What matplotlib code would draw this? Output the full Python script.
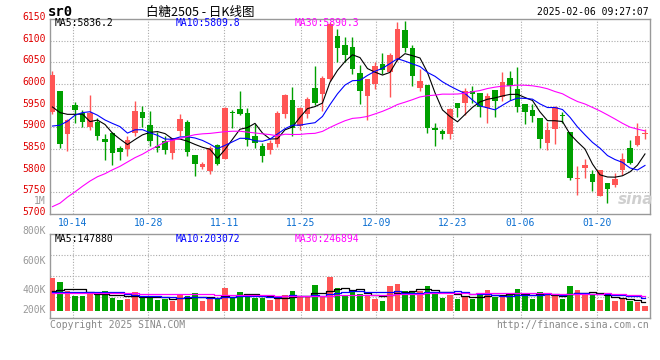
import numpy as np
import pandas as pd
import matplotlib
matplotlib.use('Agg')
import matplotlib.pyplot as plt
import matplotlib.transforms as mtransforms

# sugar SR2505 daily candles, oldest first (2024-10-09 .. 2025-02-06)
opens = [5936, 5983, 5884, 5951, 5932, 5901, 5913, 5873, 5886, 5853,
         5851, 5888, 5936, 5905, 5857, 5869, 5840, 5892, 5912, 5837,
         5808, 5800, 5860, 5828, 5936, 5942, 5933, 5880, 5857, 5848,
         5861, 5931, 5963, 5902, 5931, 5991, 5976, 6012, 6111, 6089,
         6085, 6026, 5972, 5999, 6047, 6028, 6058, 6125, 6082, 5991,
         5997, 5898, 5892, 5884, 5955, 5957, 5983, 5979, 5944, 5986,
         5970, 6014, 5988, 5953, 5941, 5921, 5863, 5896, 5929, 5890,
         5781, 5806, 5792, 5741, 5772, 5766, 5801, 5852, 5860, 5885]
highs = [6029, 5985, 5920, 5959, 5941, 5974, 5921, 5885, 5890, 5858,
         5881, 5960, 5950, 5937, 5890, 5880, 5875, 5931, 5918, 5837,
         5821, 5856, 5862, 5947, 5941, 5983, 5944, 5908, 5863, 5871,
         5938, 5976, 5993, 5947, 5970, 6041, 6018, 6142, 6127, 6109,
         6108, 6043, 6011, 6050, 6072, 6071, 6142, 6146, 6089, 6035,
         5997, 5909, 5896, 5944, 5955, 5991, 5995, 5979, 5980, 5986,
         6028, 6031, 6039, 5955, 5955, 5921, 5913, 5950, 5936, 5890,
         5810, 5828, 5802, 5802, 5772, 5795, 5841, 5871, 5911, 5896]
lows = [5930, 5852, 5846, 5911, 5901, 5894, 5871, 5825, 5812, 5824,
        5833, 5881, 5901, 5858, 5843, 5839, 5827, 5879, 5835, 5787,
        5804, 5792, 5812, 5827, 5899, 5928, 5856, 5852, 5819, 5839,
        5854, 5921, 5879, 5894, 5921, 5951, 5937, 6008, 6050, 6050,
        6024, 5953, 5918, 5989, 6024, 5970, 6054, 6075, 5995, 5984,
        5886, 5856, 5872, 5873, 5924, 5928, 5957, 5924, 5909, 5923,
        5961, 5963, 5936, 5907, 5913, 5853, 5848, 5861, 5909, 5778,
        5744, 5783, 5753, 5741, 5726, 5762, 5791, 5816, 5856, 5873]
closes = [6021, 5861, 5918, 5940, 5913, 5934, 5879, 5867, 5840, 5844,
          5871, 5937, 5921, 5869, 5853, 5848, 5875, 5920, 5844, 5816,
          5815, 5852, 5816, 5945, 5934, 5931, 5871, 5865, 5833, 5865,
          5934, 5974, 5898, 5945, 5965, 5957, 6015, 6138, 6082, 6067,
          6035, 5983, 6011, 6041, 6033, 6066, 6128, 6082, 6018, 6006,
          5899, 5894, 5884, 5942, 5945, 5983, 5977, 5946, 5973, 5961,
          6005, 5995, 5947, 5936, 5927, 5873, 5894, 5946, 5927, 5782,
          5783, 5812, 5773, 5802, 5757, 5781, 5828, 5818, 5880, 5886]
# volume, thousands of lots
volumes = [490, 430, 290, 225, 225, 250, 250, 295, 190, 165,
           180, 280, 200, 220, 165, 170, 150, 230, 220, 265,
           150, 175, 170, 340, 185, 280, 250, 190, 190, 165,
           180, 230, 295, 205, 205, 385, 205, 505, 340, 235,
           290, 250, 215, 175, 145, 370, 400, 295, 295, 290,
           370, 280, 190, 240, 175, 210, 175, 250, 310, 205,
           200, 260, 325, 240, 175, 280, 240, 215, 175, 370,
           310, 265, 250, 165, 215, 145, 185, 145, 135, 70]

# moving averages at the left edge depend on days before the window,
# so those are read straight off the chart
ma5_head = [5947, 5934, 5930, 5930]
ma10_head = [5903, 5905, 5914, 5928, 5934, 5936, 5928, 5917, 5909]
ma30_head = [5717, 5725, 5739, 5751, 5764, 5776, 5786, 5793, 5802, 5810,
             5820, 5830, 5838, 5848, 5857, 5866, 5870, 5874, 5879, 5883,
             5885, 5886, 5888, 5890, 5891, 5891, 5889, 5887, 5885]
vma5_head = [300, 310, 320, 325]
vma10_head = [280, 282, 284, 285, 285, 285, 284, 283, 282]
vma30_head = [265, 265, 262, 262, 262, 260, 260, 260, 258, 258,
              258, 258, 256, 256, 255, 255, 252, 250, 248, 246,
              245, 243, 242, 240, 240, 238, 236, 235, 234]

date_labels = ['10-14', '10-28', '11-11', '11-25', '12-09', '12-23', '01-06', '01-20']
date_pos = [2.67, 12.76, 22.93, 33.09, 43.2, 53.37, 62.41, 72.57]
price_labels = [6150, 6100, 6050, 6000, 5950, 5900, 5850, 5800, 5750, 5700]

RED = '#ff5555'
GREEN = '#00a000'
GRID = '#aaaaaa'
FRAME = '#999999'
MONO = 'DejaVu Sans Mono'


def moving_average(values, n, head):
    ma = pd.Series(values, dtype=float).rolling(n).mean()
    ma.iloc[:len(head)] = head
    return ma.values


o = np.array(opens, dtype=float)
h = np.array(highs, dtype=float)
l = np.array(lows, dtype=float)
c = np.array(closes, dtype=float)
v = np.array(volumes, dtype=float)
x = np.arange(len(c))
colors = np.where(c >= o, RED, GREEN)

W, H = 660, 360
fig = plt.figure(figsize=(6.6, 3.6), dpi=100)
fig.patch.set_facecolor('white')
ax = fig.add_axes([50 / W, 1 - 214 / H, 600 / W, 195 / H])
axv = fig.add_axes([50 / W, 1 - 318 / H, 600 / W, 83.7 / H])

for a in (ax, axv):
    for s in a.spines.values():
        s.set_color(FRAME)
        s.set_linewidth(1.0)
    a.set_xlim(-0.33, 79.67)
    a.set_yticks([])
    for p in date_pos:
        a.axvline(p, color=GRID, lw=0.8, ls=(0, (1, 1.5)), zorder=1)

# price panel
ax.set_ylim(5700, 6150)
for g in price_labels[1:-1]:
    ax.axhline(g, color=GRID, lw=0.8, ls=(0, (1, 1.5)), zorder=1)
ax.vlines(x, l, h, colors=colors, lw=1.0, zorder=3)
ax.bar(x, np.maximum(np.abs(c - o), 2), bottom=np.minimum(o, c), width=0.77,
       color=colors, lw=0, zorder=4)
ax.plot(x, moving_average(c, 5, ma5_head), color='black', lw=0.8, zorder=5)
ax.plot(x, moving_average(c, 10, ma10_head), color='#0000ff', lw=0.8, zorder=5)
ax.plot(x, moving_average(c, 30, ma30_head), color='#ff00ff', lw=0.8, zorder=5)
ax.set_xticks(date_pos)
ax.set_xticklabels(date_labels, color='#0a6ed1', fontsize=7, family=MONO)
ax.tick_params(axis='x', length=0, pad=3)

lift = mtransforms.ScaledTranslation(0, 2 / 100, fig.dpi_scale_trans)
ylab = mtransforms.blended_transform_factory(ax.transAxes, ax.transData) + lift
for p in price_labels:
    ax.text(-0.0067, p, str(p), transform=ylab, ha='right', va='center',
            color='#e00000', fontsize=7, family=MONO, clip_on=False)

# volume panel
vlo, vhi = -110, 1146
axv.set_ylim(vlo, vhi)
for f in (0.25, 0.5, 0.75):
    axv.axhline(vlo + f * (vhi - vlo), color=GRID, lw=0.8, ls=(0, (1, 1.5)), zorder=1)
axv.bar(x, v, width=0.77, color=colors, lw=0, zorder=3)
axv.plot(x, moving_average(v, 5, vma5_head), color='black', lw=0.9,
         drawstyle='steps-mid', zorder=4)
axv.plot(x, moving_average(v, 10, vma10_head), color='#0000ff', lw=0.9,
         drawstyle='steps-mid', zorder=4)
axv.plot(x, moving_average(v, 30, vma30_head), color='#ff00ff', lw=0.9,
         drawstyle='steps-mid', zorder=4)
axv.set_xticks([])
for lab, yf in [('800K', 1.043), ('600K', 0.681), ('400K', 0.335), ('200K', 0.096)]:
    axv.text(-0.0067, yf, lab, transform=axv.transAxes, ha='right', va='center',
             color=FRAME, fontsize=7, family=MONO, clip_on=False)


def ftext(px, py, s, **kw):
    kw.setdefault('fontsize', 7)
    kw.setdefault('family', MONO)
    fig.text(px / W, 1 - py / H, s, va='center', **kw)


# header
ftext(48, 12, 'sr0', fontsize=10, weight='bold')
ftext(200, 12, '白糖2505 - 日K线图', ha='center', fontsize=9,
      family=['Noto Sans CJK SC', 'DejaVu Sans'])
ftext(649, 12, '2025-02-06 09:27:07', ha='right')

# moving average readouts
ftext(54.5, 23.5, 'MA5:5836.2', color='black')
ftext(175.5, 23.5, 'MA10:5809.8', color='#0000ff')
ftext(295, 23.5, 'MA30:5890.3', color='#ff00ff')
ftext(54.5, 238.5, 'MA5:147880', color='black')
ftext(175.5, 238.5, 'MA10:203072', color='#0000ff')
ftext(295, 238.5, 'MA30:246894', color='#ff00ff')

ftext(46, 201, '1M', ha='right', color=FRAME)
ftext(636, 199, 'sina', ha='center', fontsize=11, weight='bold', style='italic',
      color='#cfcfcf', family='DejaVu Sans')

# footer
ftext(50, 324.5, 'Copyright 2025 SINA.COM', color='#888888')
ftext(649, 324.5, 'http://finance.sina.com.cn', ha='right', color='#888888')

fig.savefig('out.png', dpi=100)
